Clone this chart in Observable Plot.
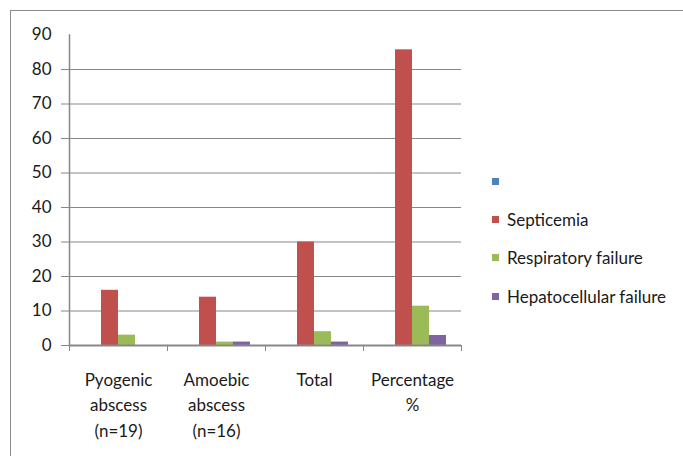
<!DOCTYPE html>
<html>
<head>
<meta charset="utf-8">
<script src="https://cdn.jsdelivr.net/npm/d3@7"></script>
<script src="https://cdn.jsdelivr.net/npm/@observablehq/plot@0.6"></script>
<style>
  html, body { margin: 0; padding: 0; background: #fff; }
  #wrap { position: relative; width: 683px; height: 456px; overflow: hidden; font-family: Lato, "Open Sans", sans-serif; }
  #border { position: absolute; left: 10px; top: 10px; width: 700px; height: 480px; border-left: 1.5px solid #8a8a8a; border-top: 1.5px solid #8a8a8a; box-sizing: border-box; }
  #chart { position: absolute; left: 0; top: 0; }
  #legend { position: absolute; left: 492px; top: 162px; font-size: 17px; color: #1a1a1a; }
  .item { display: flex; align-items: center; height: 38.3px; }
  .sw { width: 7px; height: 7px; margin-right: 8px; }
</style>
</head>
<body>
<div id="wrap">
  <div id="border"></div>
  <div id="chart"></div>
  <div id="legend"></div>
</div>
<script>
const categories = ["Pyogenic\nabscess\n(n=19)", "Amoebic\nabscess\n(n=16)", "Total", "Percentage\n%"];
const seriesNames = ["", "Septicemia", "Respiratory failure", "Hepatocellular failure"];
const seriesColors = ["#4F81BD", "#C0504D", "#9BBB59", "#8064A2"];
const blankSeries = [0, 0, 0, 0];
const septicemia = [16, 14, 30, 85.7];
const respiratoryFailure = [3, 1, 4, 11.4];
const hepatocellularFailure = [0, 1, 1, 2.9];
const yTicks = [0, 10, 20, 30, 40, 50, 60, 70, 80, 90];
const gridTicks = [0, 10, 20, 30, 40, 50, 60, 70, 80];

const seriesValues = [blankSeries, septicemia, respiratoryFailure, hepatocellularFailure];
const rows = [];
seriesNames.forEach((s, i) => categories.forEach((c, j) => rows.push({category: c, series: s, value: seriesValues[i][j]})));

const gray = "#878787";
const chart = Plot.plot({
  width: 683,
  height: 456,
  marginLeft: 68,
  marginRight: 221,
  marginTop: 34.5,
  marginBottom: 111,
  style: {fontFamily: "Lato, 'Open Sans', sans-serif", fontSize: "17px", color: "#1a1a1a", background: "transparent"},
  fx: {domain: categories, padding: 0, label: null, axis: null},
  x: {domain: seriesNames, paddingInner: 0, paddingOuter: 0.81, axis: null},
  y: {domain: [0, 90], axis: null, label: null},
  color: {domain: seriesNames, range: seriesColors},
  marks: [
    Plot.gridY(gridTicks, {stroke: gray, strokeOpacity: 1, strokeWidth: 1}),
    Plot.axisY({ticks: gridTicks, tickSize: 8, stroke: gray, strokeOpacity: 1, text: null, label: null}),
    Plot.axisY({ticks: yTicks, tickSize: 0, tickPadding: 18, fontSize: 17, fill: "#1a1a1a", label: null}),
    Plot.barY(rows, {fx: "category", x: "series", y: "value", fill: "series"}),
    Plot.ruleY([0], {stroke: gray, strokeWidth: 2}),
    Plot.frame({anchor: "left", facetAnchor: "left", stroke: gray, strokeWidth: 1.5}),
    Plot.frame({anchor: "left", stroke: gray, strokeWidth: 1, insetTop: 310.5, insetBottom: -5}),
    Plot.frame({anchor: "right", facetAnchor: "right", stroke: gray, strokeWidth: 1, insetTop: 310.5, insetBottom: -5}),
    Plot.axisFx({anchor: "bottom", tickSize: 0, tickPadding: 22, lineHeight: 1.5, fontSize: 17, fill: "#1a1a1a", label: null})
  ]
});
document.getElementById("chart").appendChild(chart);

const legend = document.getElementById("legend");
seriesNames.forEach((s, i) => {
  const item = document.createElement("div");
  item.className = "item";
  const sw = document.createElement("div");
  sw.className = "sw";
  sw.style.background = seriesColors[i];
  const label = document.createElement("span");
  label.textContent = s;
  item.appendChild(sw);
  item.appendChild(label);
  legend.appendChild(item);
});
</script>
</body>
</html>
